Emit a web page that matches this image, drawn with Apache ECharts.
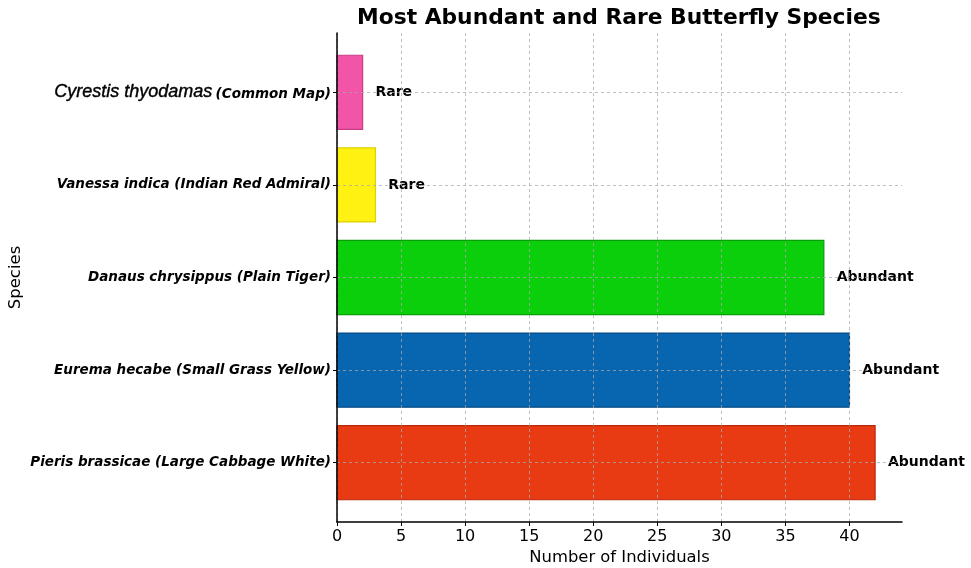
<!DOCTYPE html>
<html>
<head>
<meta charset="utf-8">
<script src="https://cdn.jsdelivr.net/npm/echarts@6/dist/echarts.min.js"></script>
<style>
  html, body { margin: 0; padding: 0; background: #fff; }
  #chart { width: 971px; height: 568px; }
</style>
</head>
<body>
<div id="chart"></div>
<script>
// Species listed bottom to top
const genusNames = ['Pieris brassicae', 'Eurema hecabe', 'Danaus chrysippus', 'Vanessa indica', 'Cyrestis thyodamas'];
const commonNames = ['Large Cabbage White', 'Small Grass Yellow', 'Plain Tiger', 'Indian Red Admiral', 'Common Map'];
const counts = [42, 40, 38, 3, 2];
const statusLabels = ['Abundant', 'Abundant', 'Abundant', 'Rare', 'Rare'];
const xTicks = [0, 5, 10, 15, 20, 25, 30, 35, 40];

const fillColors = ['#e83b14', '#0866b0', '#0ccf0c', '#fff212', '#f254a8'];
const edgeColors = ['#b8280a', '#064a85', '#0a9c0a', '#e0d000', '#c83c86'];

const chart = echarts.init(document.getElementById('chart'));

const seriesData = counts.map((v, i) => [v, i]);

chart.setOption({
  animation: false,
  backgroundColor: '#ffffff',
  title: {
    text: 'Most Abundant and Rare Butterfly Species',
    left: 352,
    top: 2,
    textStyle: { fontFamily: 'DejaVu Sans', fontSize: 21.8, fontWeight: 'bold', color: '#000' }
  },
  grid: { left: 337, right: 69, top: 33, bottom: 46, containLabel: false, outerBoundsMode: 'none' },
  xAxis: {
    type: 'value',
    min: 0,
    max: 44.1,
    interval: 5,
    z: 5,
    name: 'Number of Individuals',
    nameLocation: 'middle',
    nameGap: 26,
    nameTextStyle: { fontFamily: 'DejaVu Sans', fontSize: 16.4, color: '#000' },
    axisLine: { show: true, onZero: false, lineStyle: { color: '#000', width: 1.5 } },
    axisTick: { show: true, length: 4, lineStyle: { color: '#000' }, customValues: xTicks },
    axisLabel: {
      customValues: xTicks,
      margin: 7,
      fontFamily: 'DejaVu Sans', fontSize: 16, color: '#000'
    },
    splitLine: { show: true, lineStyle: { color: 'rgba(170,170,170,0.75)', type: [3, 3], width: 1 } }
  },
  yAxis: {
    type: 'value',
    min: -0.64,
    max: 4.64,
    z: 5,
    name: 'Species',
    nameLocation: 'middle',
    nameGap: 313,
    nameMoveOverlap: false,
    nameRotate: 90,
    nameTextStyle: { fontFamily: 'DejaVu Sans', fontSize: 16.5, color: '#000' },
    axisLine: { show: true, onZero: false, lineStyle: { color: '#000', width: 1.5 } },
    axisTick: { show: true, length: 4, lineStyle: { color: '#000' }, customValues: [0, 1, 2, 3, 4] },
    axisLabel: {
      customValues: [0, 1, 2, 3, 4],
      margin: 6,
      formatter: (v) => {
        const i = Math.round(v);
        if (i === 4) return '{big|' + genusNames[i] + '} {small|(' + commonNames[i] + ')}';
        return '{small|' + genusNames[i] + ' (' + commonNames[i] + ')}';
      },
      rich: {
        big: { fontFamily: 'Liberation Sans', fontStyle: 'italic', fontSize: 18, color: '#000', verticalAlign: 'bottom', textBorderColor: '#000', textBorderWidth: 0.4 },
        small: { fontFamily: 'DejaVu Sans', fontStyle: 'italic', fontWeight: 'bold', fontSize: 13.5, color: '#000', verticalAlign: 'bottom' }
      }
    },
    splitLine: { show: true, lineStyle: { color: 'rgba(170,170,170,0.75)', type: [3, 3], width: 1 } }
  },
  series: [{
    type: 'custom',
    z: 1,
    data: seriesData,
    encode: { x: 0, y: 1 },
    renderItem: (params, api) => {
      const val = api.value(0);
      const idx = api.value(1);
      const start = api.coord([0, idx]);
      const end = api.coord([val, idx]);
      const h = api.size([0, 0.8])[1];
      const labelPos = api.coord([val + 1, idx]);
      return {
        type: 'group',
        children: [{
          type: 'rect',
          shape: { x: start[0], y: start[1] - h / 2, width: end[0] - start[0], height: h },
          style: { fill: fillColors[idx], stroke: edgeColors[idx], lineWidth: 1.2 }
        }, {
          type: 'text',
          x: labelPos[0],
          y: labelPos[1],
          style: {
            text: statusLabels[idx],
            fill: '#000',
            font: 'bold 14px "DejaVu Sans"',
            textAlign: 'left',
            textVerticalAlign: 'middle'
          }
        }]
      };
    }
  }]
});
</script>
</body>
</html>
